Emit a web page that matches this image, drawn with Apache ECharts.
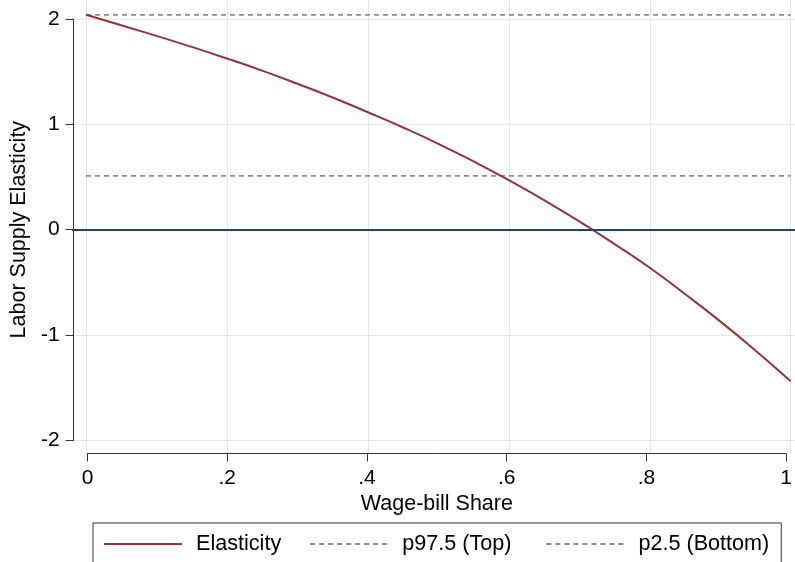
<!DOCTYPE html>
<html>
<head>
<meta charset="utf-8">
<script src="https://cdn.jsdelivr.net/npm/echarts@6/dist/echarts.min.js"></script>
<style>
  html, body { margin: 0; padding: 0; background: #ffffff; }
  #chart { width: 795px; height: 562px; }
</style>
</head>
<body>
<div id="chart"></div>
<script>
// Wage-bill share grid and the estimated labor supply elasticity along it
const shares = [0, 0.05, 0.10, 0.15, 0.20, 0.25, 0.30, 0.35, 0.40, 0.45, 0.50,
                0.55, 0.60, 0.65, 0.70, 0.75, 0.80, 0.85, 0.90, 0.95, 1.00];
const elasticity = [2.04, 1.94, 1.84, 1.735, 1.625, 1.51, 1.385, 1.255, 1.115, 0.97, 0.815,
                    0.648, 0.47, 0.28, 0.078, -0.137, -0.362, -0.611, -0.871, -1.147, -1.44];

// Percentile bounds (horizontal reference lines)
const p975Top = 2.04;
const p25Bottom = 0.51;
const zeroLine = 0;

// Tick values and labels
const xTicks = [0, 0.2, 0.4, 0.6, 0.8, 1];
const xTickLabels = ['0', '.2', '.4', '.6', '.8', '1'];
const yTicks = [-2, -1, 0, 1, 2];

const seriesNames = ['Elasticity', 'p97.5 (Top)', 'p2.5 (Bottom)'];

const FONT = "'Liberation Sans', Arial, sans-serif";
const W = 795, H = 562;

// Axis frame (tick extent) and the wider plot region around it
const axisBox = { left: 86, right: 790.7, top: 19, bottom: 440.3 };
const plotBox = { left: 72, right: 795, top: 0, bottom: 453.5 };

const xMin = xTicks[0], xMax = xTicks[xTicks.length - 1];
const yMin = yTicks[0], yMax = yTicks[yTicks.length - 1];
const xScale = (axisBox.right - axisBox.left) / (xMax - xMin);
const yScale = (axisBox.bottom - axisBox.top) / (yMax - yMin);

const outerX = [xMin - (axisBox.left - plotBox.left) / xScale,
                xMax + (plotBox.right - axisBox.right) / xScale];
const outerY = [yMin - (plotBox.bottom - axisBox.bottom) / yScale,
                yMax + (axisBox.top - plotBox.top) / yScale];

const curve = shares.map((s, i) => [s, elasticity[i]]);
const flat = v => [[xMin, v], [xMax, v]];

const chart = echarts.init(document.getElementById('chart'), null, { renderer: 'canvas' });

chart.setOption({
  backgroundColor: '#ffffff',
  animation: false,
  textStyle: { fontFamily: FONT },
  grid: [
    { left: plotBox.left, right: W - plotBox.right, top: plotBox.top, bottom: H - plotBox.bottom },
    { left: axisBox.left, right: W - axisBox.right, top: axisBox.top, bottom: H - axisBox.bottom }
  ],
  xAxis: [
    {
      gridIndex: 0, type: 'value', min: outerX[0], max: outerX[1],
      axisLine: { show: false },
      axisTick: { show: false, customValues: xTicks },
      axisLabel: { show: false, customValues: xTicks },
      splitLine: { show: true, lineStyle: { color: '#e6e6e6', width: 1 } }
    },
    {
      gridIndex: 1, type: 'value', min: xMin, max: xMax, interval: 0.2,
      offset: plotBox.bottom - axisBox.bottom,
      axisLine: { show: true, onZero: false, lineStyle: { color: '#333333', width: 1 } },
      axisTick: { show: true, length: 8, inside: false, lineStyle: { color: '#333333' } },
      axisLabel: {
        color: '#000000', fontSize: 21, fontFamily: FONT, margin: 14,
        formatter: v => {
          const i = xTicks.findIndex(t => Math.abs(t - v) < 1e-9);
          return i >= 0 ? xTickLabels[i] : '';
        }
      },
      splitLine: { show: false },
      name: 'Wage-bill Share', nameLocation: 'middle', nameGap: 36,
      nameTextStyle: { color: '#000000', fontSize: 21.5, fontFamily: FONT }
    }
  ],
  yAxis: [
    {
      gridIndex: 0, type: 'value', min: outerY[0], max: outerY[1],
      axisLine: { show: false },
      axisTick: { show: false, customValues: yTicks },
      axisLabel: { show: false, customValues: yTicks },
      splitLine: { show: true, lineStyle: { color: '#e6e6e6', width: 1 } }
    },
    {
      gridIndex: 1, type: 'value', min: yMin, max: yMax, interval: 1,
      offset: axisBox.left - plotBox.left,
      axisLine: { show: true, onZero: false, lineStyle: { color: '#333333', width: 1 } },
      axisTick: { show: true, length: 8, inside: false, lineStyle: { color: '#333333' } },
      axisLabel: { color: '#000000', fontSize: 21, fontFamily: FONT, margin: 14 },
      splitLine: { show: false },
      name: 'Labor Supply Elasticity', nameLocation: 'middle', nameGap: 39, nameRotate: 90,
      nameTextStyle: { color: '#000000', fontSize: 21.5, fontFamily: FONT }
    }
  ],
  legend: {
    data: seriesNames,
    // a little extra room after the middle key
    formatter: name => (name === seriesNames[1] ? name + ' ' : name),
    left: 93, top: 523,
    orient: 'horizontal',
    padding: [10, 12, 10, 10],
    itemWidth: 78, itemHeight: 20, itemGap: 28,
    itemStyle: { opacity: 0 },
    borderColor: '#333333', borderWidth: 1,
    textStyle: { color: '#000000', fontSize: 21.6, fontFamily: FONT, padding: [0, 0, 0, 9] }
  },
  series: [
    {
      name: 'zero', type: 'line', xAxisIndex: 0, yAxisIndex: 0, data: [],
      silent: true, z: 1,
      markLine: {
        symbol: 'none', silent: true, label: { show: false },
        lineStyle: { color: '#1a476f', width: 2, type: 'solid' },
        data: [{ yAxis: zeroLine }]
      }
    },
    {
      name: seriesNames[1], type: 'line', xAxisIndex: 0, yAxisIndex: 0,
      data: flat(p975Top), showSymbol: false, symbol: 'none', z: 2,
      color: '#8c8c8c',
      lineStyle: { color: '#8c8c8c', width: 1.8, type: [5, 4] }
    },
    {
      name: seriesNames[2], type: 'line', xAxisIndex: 0, yAxisIndex: 0,
      data: flat(p25Bottom), showSymbol: false, symbol: 'none', z: 2,
      color: '#8c8c8c',
      lineStyle: { color: '#8c8c8c', width: 1.8, type: [5, 4] }
    },
    {
      name: seriesNames[0], type: 'line', xAxisIndex: 0, yAxisIndex: 0,
      data: curve, smooth: true, showSymbol: false, symbol: 'none', z: 3,
      color: '#90353b',
      lineStyle: { color: '#90353b', width: 2 }
    }
  ]
});
</script>
</body>
</html>
